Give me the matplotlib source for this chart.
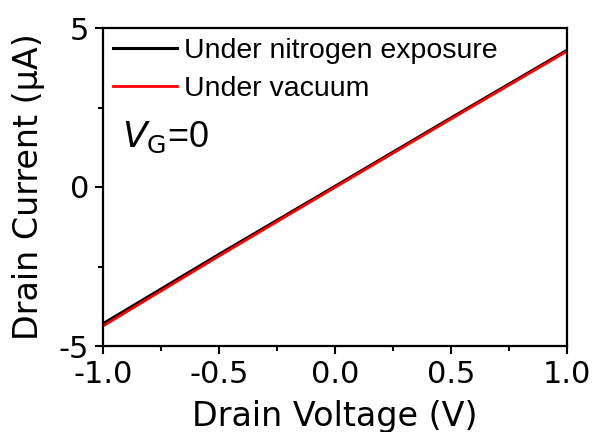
import matplotlib

matplotlib.use("Agg")
import matplotlib.pyplot as plt
from matplotlib.ticker import MultipleLocator

# (V, uA)
voltage = [-1.0, -0.5, 0.0, 0.5, 1.0]
current_n2 = [-4.30, -2.12, 0.02, 2.17, 4.30]
current_vac = [-4.37, -2.17, -0.01, 2.14, 4.27]

labels = ["Under nitrogen exposure", "Under vacuum"]

fig = plt.figure(figsize=(5.93, 4.32), dpi=100)
ax = fig.add_axes([103 / 593, 1 - 346 / 432, 464 / 593, 318 / 432])

ax.plot(voltage, current_n2, color="black", linewidth=2.2, label=labels[0])
ax.plot(voltage, current_vac, color="#ff0000", linewidth=2.0, label=labels[1])

ax.set_xlim(-1.0, 1.0)
ax.set_ylim(-5, 5)
ax.xaxis.set_major_locator(MultipleLocator(0.5))
ax.xaxis.set_minor_locator(MultipleLocator(0.25))
ax.yaxis.set_major_locator(MultipleLocator(5))
ax.yaxis.set_minor_locator(MultipleLocator(2.5))
ax.tick_params(which="major", direction="out", length=6, width=1.5, labelsize=22, pad=4)
ax.tick_params(which="minor", direction="out", length=3.5, width=1.5)
ax.xaxis.set_major_formatter(plt.FuncFormatter(lambda v, p: f"{v:.1f}"))
ax.yaxis.set_major_formatter(plt.FuncFormatter(lambda v, p: f"{v:.0f}"))
for s in ax.spines.values():
    s.set_linewidth(1.6)

ax.set_xlabel("Drain Voltage (V)", fontsize=24, labelpad=8)
ax.set_ylabel("Drain Current (\u03bcA)", fontsize=24, labelpad=10)

leg = ax.legend(loc="upper left", frameon=False,
                prop={"family": "Liberation Sans", "size": 20.5},
                handlelength=2.25, handletextpad=0.25, borderaxespad=0.15,
                borderpad=0.2, labelspacing=0.42)

ax.text(0.04, 0.625, r"$\mathit{V}_{\mathrm{G}}$=0", transform=ax.transAxes,
        fontsize=26, family="Liberation Sans")

fig.savefig("out.png", dpi=100)
